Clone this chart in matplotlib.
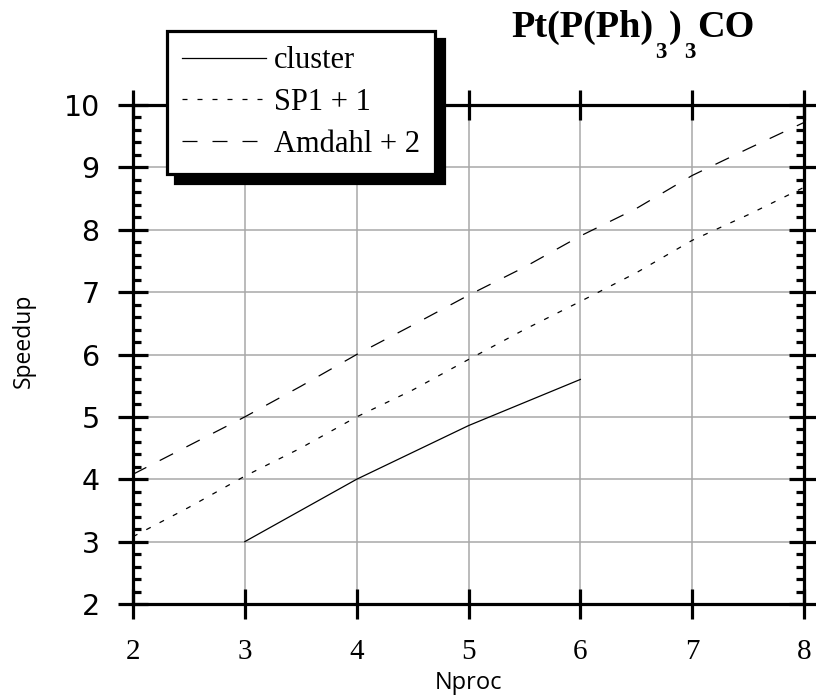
import matplotlib
matplotlib.use("Agg")
import matplotlib.pyplot as plt
from matplotlib.ticker import MultipleLocator
from matplotlib.lines import Line2D

# datos
nproc_cluster = [3, 4, 5, 6]
cluster = [3.0, 4.0, 4.86, 5.6]

nproc = [2, 2.5, 3, 3.5, 4, 4.5, 5, 5.5, 6, 6.5, 7, 7.5, 8]
sp1_mas1 = [3.08, 3.55, 4.05, 4.5, 5.0, 5.43, 5.92, 6.4, 6.85, 7.31, 7.83, 8.24, 8.68]
amdahl_mas2 = [4.08, 4.54, 5.0, 5.49, 6.0, 6.47, 6.95, 7.4, 7.9, 8.34, 8.87, 9.3, 9.72]

etiquetas = ["cluster", "SP1 + 1", "Amdahl + 2"]

W, H = 816, 696
fig = plt.figure(figsize=(W/100, H/100), dpi=100)
ax = fig.add_axes([133/W, 92/H, 671/W, 499/H])

punteado = (4, 8)
rayado = (12, 12)
ax.plot(nproc_cluster, cluster, color="black", lw=0.9)
ax.plot(nproc, sp1_mas1, color="black", lw=0.9, dashes=punteado)
ax.plot(nproc, amdahl_mas2, color="black", lw=0.9, dashes=rayado)

ax.set_xlim(2, 8)
ax.set_ylim(2, 10)
ax.xaxis.set_major_locator(MultipleLocator(1))
ax.yaxis.set_major_locator(MultipleLocator(1))
ax.yaxis.set_minor_locator(MultipleLocator(0.2))

ax.grid(True, which="major", color="#a8a8a8", lw=1.1)
ax.set_axisbelow(True)

for s in ax.spines.values():
    s.set_linewidth(2.3)

ax.tick_params(which="major", direction="inout", length=22, width=2.3,
               top=True, right=True, color="black")
ax.tick_params(axis="x", which="minor", bottom=False, top=False)
ax.tick_params(axis="y", which="minor", direction="in", length=6, width=2.3,
               left=True, right=True)
ax.tick_params(axis="y", which="major", pad=13, labelsize=20.5,
               labelfontfamily="DejaVu Sans")
ax.tick_params(axis="x", which="major", pad=14, labelsize=21,
               labelfontfamily="Liberation Serif")

ax.set_xlabel("Nproc", fontfamily="Open Sans", fontsize=17)
ax.set_ylabel("Speedup", fontfamily="Open Sans", fontsize=16.5)
ax.xaxis.set_label_coords(0.5, -0.134)
ax.yaxis.set_label_coords(-0.145, 0.527)

# titulo con subindices colgando bajo la linea base, centrado en x=634
renderer = fig.canvas.get_renderer()
piezas = [("Pt(P(Ph)", 27.5, 0), ("3", 16.5, 21), (")", 27.5, 0),
          ("3", 16.5, 21), ("CO", 27.5, 0)]
x = 0
textos = []
for txt, tam, baja in piezas:
    t = fig.text(x/W, (H - 37 - baja)/H, txt, ha="left", va="baseline",
                 fontsize=tam, fontweight="bold", fontfamily="Liberation Serif")
    textos.append((t, x))
    x = t.get_window_extent(renderer).x1 + 2
desp = 634 - x/2
for t, x0 in textos:
    t.set_x((x0 + desp)/W)

handles = [Line2D([], [], color="black", lw=0.9),
           Line2D([], [], color="black", lw=0.9, dashes=punteado),
           Line2D([], [], color="black", lw=0.9, dashes=rayado)]
ley = fig.legend(handles, etiquetas, loc="upper left",
                 bbox_to_anchor=(167/W, 1 - 31/H), borderaxespad=0,
                 prop={"family": "Liberation Serif", "size": 22},
                 handlelength=2.75, handletextpad=0.25, labelspacing=0.42,
                 borderpad=0.5, fancybox=False, framealpha=1,
                 shadow={"color": "black", "alpha": 1, "ox": 6, "oy": -6})
ley.get_frame().set_edgecolor("black")
ley.get_frame().set_linewidth(2.3)

fig.savefig("out.png", dpi=100)
